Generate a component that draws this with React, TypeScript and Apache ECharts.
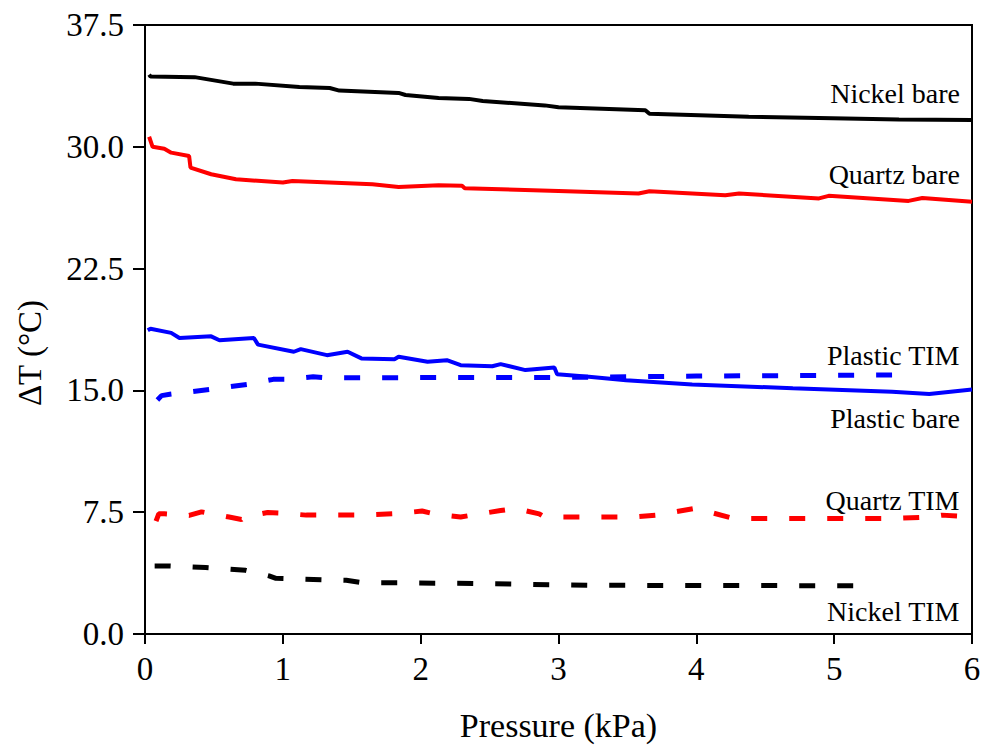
import React, { useEffect, useRef } from "react";
import * as echarts from "echarts";

// Data (x: Pressure kPa, y: ΔT °C)
const nickelBare: [number, number][] = [
  [0.03, 34.45], [0.04, 34.33], [0.36, 34.29], [0.64, 33.89], [0.8, 33.89], [1.12, 33.68],
  [1.34, 33.62], [1.41, 33.46], [1.84, 33.32], [1.89, 33.19], [2.13, 33.01], [2.35, 32.95],
  [2.45, 32.82], [2.9, 32.55], [3.0, 32.43], [3.63, 32.25], [3.66, 32.03], [4.38, 31.85],
  [4.89, 31.78], [5.47, 31.68], [6.0, 31.65],
];
const quartzBare: [number, number][] = [
  [0.03, 30.62], [0.055, 30.0], [0.14, 29.88], [0.19, 29.64], [0.32, 29.43], [0.33, 28.72],
  [0.48, 28.31], [0.66, 28.0], [1.0, 27.8], [1.07, 27.9], [1.65, 27.69], [1.84, 27.53],
  [2.13, 27.63], [2.3, 27.6], [2.32, 27.45], [3.0, 27.28], [3.58, 27.12], [3.66, 27.26],
  [4.21, 27.02], [4.31, 27.12], [4.89, 26.82], [4.96, 26.98], [5.54, 26.67], [5.64, 26.85],
  [6.0, 26.61],
];
const plasticBare: [number, number][] = [
  [0.02, 18.7], [0.04, 18.8], [0.19, 18.54], [0.25, 18.23], [0.48, 18.33], [0.54, 18.09],
  [0.79, 18.23], [0.82, 17.82], [1.08, 17.38], [1.13, 17.54], [1.32, 17.17], [1.47, 17.38],
  [1.57, 16.97], [1.81, 16.92], [1.84, 17.07], [2.05, 16.76], [2.19, 16.86], [2.29, 16.55],
  [2.52, 16.49], [2.58, 16.62], [2.76, 16.25], [2.97, 16.41], [2.99, 16.0], [3.22, 15.84],
  [3.49, 15.63], [3.97, 15.37], [4.7, 15.13], [5.42, 14.92], [5.69, 14.78], [6.0, 15.06],
];
const plasticTim: [number, number][] = [
  [0.09, 14.41], [0.12, 14.68], [0.18, 14.76], [0.47, 15.06], [0.74, 15.37], [0.93, 15.68],
  [1.02, 15.68], [1.22, 15.84], [1.31, 15.78], [3.0, 15.8], [4.0, 15.88], [5.42, 15.95],
];
const quartzTim: [number, number][] = [
  [0.08, 6.95], [0.1, 7.4], [0.14, 7.4], [0.32, 7.3], [0.41, 7.52], [0.61, 7.2], [0.7, 7.05],
  [0.72, 7.2], [0.89, 7.48], [1.0, 7.44], [1.17, 7.32], [1.55, 7.32], [1.84, 7.42],
  [2.01, 7.57], [2.12, 7.36], [2.29, 7.2], [2.4, 7.36], [2.58, 7.6], [2.69, 7.73],
  [2.86, 7.4], [2.9, 7.2], [3.22, 7.2], [3.54, 7.2], [3.71, 7.32], [3.83, 7.5], [3.99, 7.73],
  [4.04, 7.71], [4.1, 7.5], [4.27, 7.11], [5.42, 7.11], [5.68, 7.2], [5.78, 7.32], [6.0, 7.22],
];
const nickelTim: [number, number][] = [
  [0.07, 4.19], [0.18, 4.19], [0.44, 4.09], [0.73, 3.92], [0.9, 3.58], [0.95, 3.43],
  [1.29, 3.34], [1.46, 3.31], [1.58, 3.15], [1.84, 3.15], [2.38, 3.11], [3.22, 3.0],
  [5.24, 2.97],
];

const seriesNames = ["Nickel bare", "Quartz bare", "Plastic bare", "Plastic TIM", "Quartz TIM", "Nickel TIM"];
const xTicks = [0, 1, 2, 3, 4, 5, 6];
const yTicks = [0, 7.5, 15, 22.5, 30, 37.5];

const FONT = "'Liberation Serif', 'DejaVu Serif', serif";
const BLACK = "#000000";
const RED = "#ff0000";
const BLUE = "#0000ff";

export default function App() {
  const ref = useRef<HTMLDivElement>(null);

  useEffect(() => {
    document.body.style.margin = "0";
    if (!ref.current) return;
    const chart = echarts.init(ref.current, undefined, { renderer: "svg" });

    const mk = (name: string, data: [number, number][], color: string, dashed: boolean) => ({
      name,
      type: "line",
      data,
      showSymbol: false,
      symbol: "none",
      smooth: false,
      lineStyle: {
        color,
        width: dashed ? 5 : 4,
        type: dashed ? [16, 22] : "solid",
      },
      z: dashed ? 3 : 2,
    });

    const labels = [
      { text: seriesNames[0], y: 93 },
      { text: seriesNames[1], y: 174 },
      { text: seriesNames[3], y: 355 },
      { text: seriesNames[2], y: 418 },
      { text: seriesNames[4], y: 500 },
      { text: seriesNames[5], y: 611 },
    ];

    chart.setOption({
      animation: false,
      backgroundColor: "#ffffff",
      textStyle: { fontFamily: FONT },
      grid: {
        left: 145,
        right: 15,
        top: 25,
        bottom: 110,
        containLabel: false,
        show: true,
        borderColor: BLACK,
        borderWidth: 2,
      },
      xAxis: {
        type: "value",
        min: xTicks[0],
        max: xTicks[xTicks.length - 1],
        interval: 1,
        name: "Pressure (kPa)",
        nameLocation: "middle",
        nameGap: 74,
        nameTextStyle: { fontFamily: FONT, fontSize: 34, color: BLACK },
        axisLine: { show: true, onZero: false, lineStyle: { color: BLACK, width: 2 } },
        axisTick: { show: true, inside: false, length: 10, lineStyle: { color: BLACK, width: 2 } },
        axisLabel: { fontFamily: FONT, fontSize: 33, color: BLACK, margin: 18 },
        splitLine: { show: false },
      },
      yAxis: {
        type: "value",
        min: yTicks[0],
        max: yTicks[yTicks.length - 1],
        interval: 7.5,
        axisLine: { show: true, onZero: false, lineStyle: { color: BLACK, width: 2 } },
        axisTick: { show: true, inside: false, length: 12, lineStyle: { color: BLACK, width: 2 } },
        axisLabel: {
          fontFamily: FONT,
          fontSize: 33,
          color: BLACK,
          margin: 21,
          formatter: (v: number) => v.toFixed(1),
        },
        splitLine: { show: false },
      },
      graphic: [
        {
          type: "text",
          x: 30,
          y: 353,
          rotation: Math.PI / 2,
          style: {
            text: "ΔT (°C)",
            fontFamily: FONT,
            fontSize: 33,
            fill: BLACK,
            textAlign: "center",
            textVerticalAlign: "middle",
          },
        },
        ...labels.map((l) => ({
          type: "text",
          right: 27,
          y: l.y - 14,
          style: {
            text: l.text,
            fontFamily: FONT,
            fontSize: 28,
            fill: BLACK,
          },
        })),
      ],
      series: [
        mk(seriesNames[0], nickelBare, BLACK, false),
        mk(seriesNames[1], quartzBare, RED, false),
        mk(seriesNames[2], plasticBare, BLUE, false),
        mk(seriesNames[3], plasticTim, BLUE, true),
        mk(seriesNames[4], quartzTim, RED, true),
        mk(seriesNames[5], nickelTim, BLACK, true),
      ],
    });

    return () => chart.dispose();
  }, []);

  return <div ref={ref} style={{ width: 987, height: 747 }} />;
}
